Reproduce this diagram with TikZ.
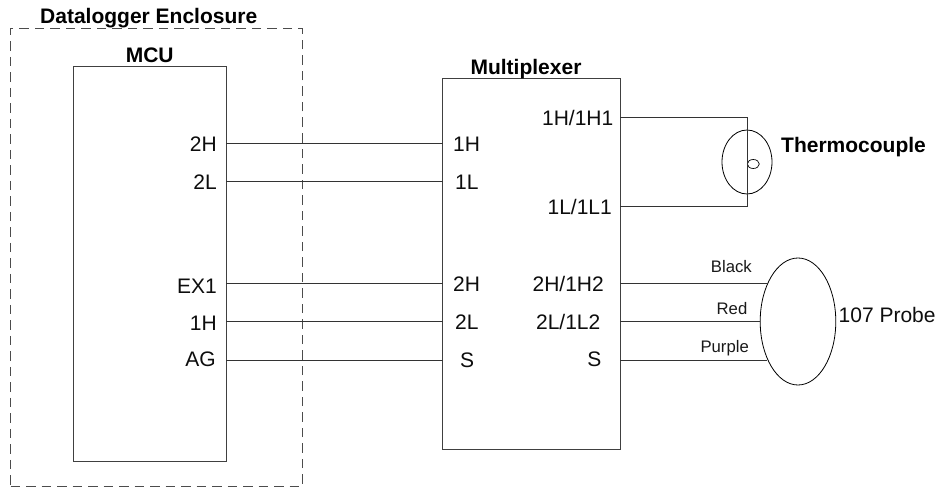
\documentclass[tikz,border=0pt]{standalone}
\usepackage{fontspec}
\setmainfont{Liberation Sans}
\usetikzlibrary{shapes.geometric}
\tikzset{
  wire/.style={draw=black!80,line width=0.9pt},
  boxx/.style={draw=black!75,line width=1pt,fill=white,inner sep=0pt},
  oval/.style={ellipse,draw=black,line width=0.8pt,inner sep=0pt,minimum width=#1},
  lab/.style={font=\fontsize{21}{23}\selectfont,inner sep=0pt,text=black!95},
  blab/.style={font=\fontsize{21}{23}\selectfont\bfseries,inner sep=0pt,text=black},
  wlab/.style={font=\fontsize{16.7}{18}\selectfont,inner sep=0pt,text=black!90},
}
\begin{document}
\begin{tikzpicture}[x=1pt,y=-1pt]
\useasboundingbox (0,0) rectangle (938,487);
\node[draw=black!70,dash pattern=on 9.5pt off 6pt,line width=0.8pt,minimum width=291.3pt,minimum height=458.4pt,inner sep=0pt] (encl) at (156.35,257.5) {};
\node[boxx,minimum width=152.5pt,minimum height=395pt] (mcu) at (149.75,264.2) {};
\node[boxx,minimum width=177.5pt,minimum height=370pt] (mux) at (531.25,264) {};
\node[oval=50pt,minimum height=64pt] (tc) at (747,162) {};
\node[oval=75.6pt,minimum height=127pt] (probe) at (798,321.5) {};
\node[oval=12pt,minimum height=9pt,line width=0.7pt] (junc) at (753.3,164) {};
\node[blab,anchor=base] (t1) at (148.7,24) {Datalogger Enclosure};
\node[blab,anchor=base] (t2) at (149.7,62.7) {MCU};
\node[blab,anchor=base] (t3) at (526,75) {Multiplexer};
\node[blab,anchor=base west] (t4) at (781,152) {Thermocouple};
\node[lab,anchor=base west] (t5) at (838.5,322) {107 Probe};
\node[lab,anchor=base east] (m1) at (217,151) {2H};
\node[lab,anchor=base east] (m2) at (217,189) {2L};
\node[lab,anchor=base east] (m3) at (217,293.5) {EX1};
\node[lab,anchor=base east] (m4) at (217,330) {1H};
\node[lab,anchor=base east] (m5) at (216,366.5) {AG};
\node[lab,anchor=base west] (x1) at (453,151) {1H};
\node[lab,anchor=base west] (x2) at (455,189) {1L};
\node[lab,anchor=base west] (x3) at (453,291) {2H};
\node[lab,anchor=base west] (x4) at (455,329) {2L};
\node[lab,anchor=base west] (x5) at (460,367) {S};
\node[lab,anchor=base east] (y1) at (613.5,125) {1H/1H1};
\node[lab,anchor=base east] (y2) at (612,214) {1L/1L1};
\node[lab,anchor=base east] (y3) at (604,291) {2H/1H2};
\node[lab,anchor=base east] (y4) at (600.5,329) {2L/1L2};
\node[lab,anchor=base east] (y5) at (601.5,366) {S};
\node[wlab,anchor=base east] (c1) at (752,272.7) {Black};
\node[wlab,anchor=base east] (c2) at (747.5,314) {Red};
\node[wlab,anchor=base east] (c3) at (749,352) {Purple};
\foreach \yy/\nm in {143.3/a,181.7/b,283.7/c,321.7/d,360/e}{
  \coordinate (l\nm) at (226,\yy);
  \coordinate (r\nm) at (442.5,\yy);
  \draw[wire] (l\nm) -- (r\nm);
}
\coordinate (tt) at (620,117.7);
\coordinate (tb) at (620,206.7);
\coordinate (tv1) at (747,117.7);
\coordinate (tv2) at (747,206.7);
\draw[wire] (tt) -- (tv1) -- (tv2) -- (tb);
\coordinate (p1) at (620,283.7);
\coordinate (p2) at (620,321.5);
\coordinate (p3) at (620,360);
\coordinate (e1) at (767,283.7);
\coordinate (e3) at (767,360);
\draw[wire] (p1) -- (e1);
\draw[wire] (p2) -- (probe.west);
\draw[wire] (p3) -- (e3);
\end{tikzpicture}
\end{document}
